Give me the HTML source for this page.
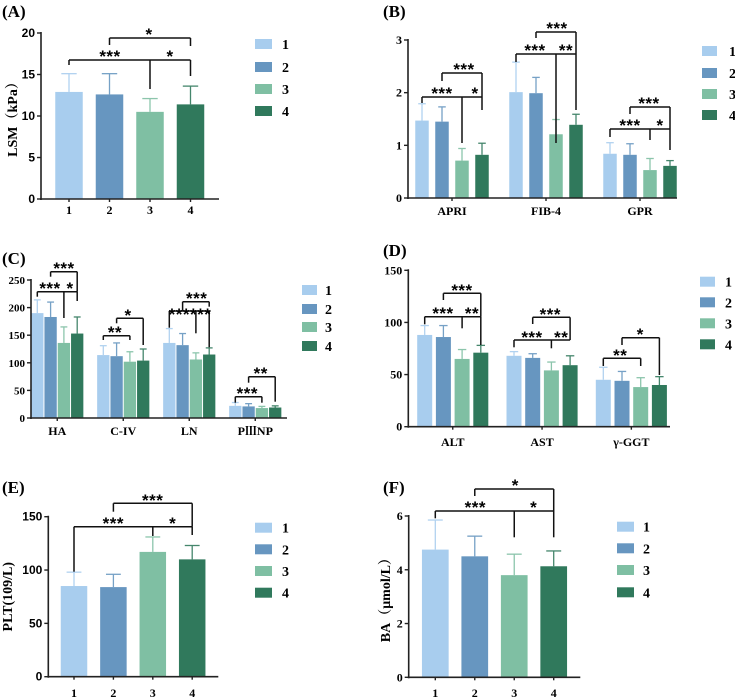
<!DOCTYPE html>
<html><head><meta charset="utf-8"><style>
html,body{margin:0;padding:0;background:#fff;}
svg{display:block;font-family:"Liberation Serif","Noto Serif CJK SC",serif;}
</style></head><body>
<svg id="fig" width="735" height="699" viewBox="0 0 735 699" xmlns="http://www.w3.org/2000/svg"></svg>
<script>
// ---------- data ----------
const seriesNames = ["1","2","3","4"];
const colors = ["#a8cdee","#6796c0","#7fbfa3","#30795c"];

const aCats = ["1","2","3","4"];
const aMeans = [[12.9,12.6,10.5,11.4]];
const aErrTop = [[15.1,15.1,12.1,13.6]];
const aTicks = [0,5,10,15,20];

const bCats = ["APRI","FIB-4","GPR"];
const bMeans = [[1.47,1.45,0.71,0.82],[2.01,1.99,1.21,1.39],[0.84,0.82,0.53,0.61]];
const bErrTop = [[1.79,1.73,0.94,1.04],[2.58,2.29,1.49,1.59],[1.05,1.03,0.75,0.71]];
const bTicks = [0,1,2,3];

const cCats = ["HA","C-IV","LN","PⅢNP"];
const cMeans = [[190,183,136,153],[114,112,102,104],[136,132,106,115],[22,21,18,19]];
const cErrTop = [[214,210,165,183],[131,136,120,125],[162,153,118,127],[28,26,21,22]];
const cTicks = [0,50,100,150,200,250];

const dCats = ["ALT","AST","γ-GGT"];
const dMeans = [[88,86,65,71],[68,66,54,59],[45,44,38,40]];
const dErrTop = [[97,97,74,78],[72,70,62,68],[57,53,47,48]];
const dTicks = [0,50,100,150];

const eCats = ["1","2","3","4"];
const eMeans = [[85,84,117,110]];
const eErrTop = [[98,96,131,123]];
const eTicks = [0,50,100,150];

const fCats = ["1","2","3","4"];
const fMeans = [[4.75,4.5,3.8,4.13]];
const fErrTop = [[5.85,5.25,4.58,4.7]];
const fTicks = [0,2,4,6];

// ---------- drawing ----------
const NS="http://www.w3.org/2000/svg";
const svg=document.getElementById('fig');
function el(tag,attrs,parent,text){
  const e=document.createElementNS(NS,tag);
  for(const k in attrs) e.setAttribute(k,attrs[k]);
  if(text!==undefined) e.textContent=text;
  (parent||svg).appendChild(e);
  return e;
}
function lighten(hex,f){
  const n=parseInt(hex.slice(1),16);let r=n>>16,g=(n>>8)&255,b=n&255;
  r=Math.round(r+(255-r)*f);g=Math.round(g+(255-g)*f);b=Math.round(b+(255-b)*f);
  return "rgb("+r+","+g+","+b+")";
}

function panel(p){
  const g=el('g',{},svg);
  
  
  const ys=v=>p.yBot-(v/p.ymax)*(p.yBot-p.yTop);
  const bx=(gi,si)=>p.g0+gi*p.gs+si*p.pitch;
  const t=el('text',{x:p.lx,y:p.ly,'font-size':17,'font-weight':'bold'},g,p.letter);
  
  
  p.means.forEach((row,gi)=>row.forEach((v,si)=>{
    const cx=bx(gi,si), top=ys(v), et=ys(p.err[gi][si]);
    const ec=lighten(colors[si],0.1);
    const ln=el('line',{x1:cx,x2:cx,y1:top,y2:et,stroke:ec,'stroke-width':1.3},g);
    
    
    el('line',{x1:cx-p.bw*0.28,x2:cx+p.bw*0.28,y1:et,y2:et,stroke:ec,'stroke-width':1.3},g);
    const r=el('rect',{x:cx-p.bw/2,y:top,width:p.bw,height:p.yBot-top,fill:colors[si]},g);
    
    
  }));
  el('line',{x1:p.x0,x2:p.x0,y1:p.yTop-1,y2:p.yBot+1,stroke:'#222','stroke-width':1.6},g);
  el('line',{x1:p.x0-1,x2:p.xEnd,y1:p.yBot,y2:p.yBot,stroke:'#222','stroke-width':1.6},g);
  p.ticks.forEach(v=>{
    const y=ys(v);
    el('line',{x1:p.x0-4,x2:p.x0,y1:y,y2:y,stroke:'#222','stroke-width':1.4},g);
    const tl=el('text',{x:p.x0-6,y:y+4,'font-size':p.tfs||12,'font-weight':'bold','text-anchor':'end','font-family':p.sans?'"Liberation Sans",sans-serif':'"Liberation Serif",serif'},g,String(v));
    
    
  });
  p.cats.forEach((c,i)=>{
    let cx;
    if(p.single) cx=bx(0,i); else cx=(bx(i,0)+bx(i,3))/2;
    el('line',{x1:cx,x2:cx,y1:p.yBot,y2:p.yBot+3,stroke:'#222','stroke-width':1.4},g);
    const cl=el('text',{x:cx,y:p.catY,'font-size':p.cfs||12,'font-weight':'bold','text-anchor':'middle'},g,c);
    
    
  });
  if(p.ytitle){
    const yt=el('text',{x:0,y:0,'font-size':14,'font-weight':'bold','text-anchor':'middle',transform:'translate('+p.ytx+','+((p.yTop+p.yBot)/2)+') rotate(-90)','font-family':'"Liberation Serif","Noto Serif CJK SC",serif'},g,p.ytitle);
    
    
  }
  (p.br||[]).forEach(b=>{
    const xs=b.pts.map(q=>bx(q[0],q[1]));
    const bg=el('g',{},g);
    
    
    el('line',{x1:Math.min(...xs),x2:Math.max(...xs),y1:b.y,y2:b.y,stroke:'#111','stroke-width':1.5},bg);
    b.pts.forEach((q,i)=>el('line',{x1:xs[i],x2:xs[i],y1:b.y,y2:q[2],stroke:'#111','stroke-width':1.5},bg));
    b.labels.forEach(l=>el('text',{x:l[0],y:l[1]+6,'font-size':17,'font-weight':'bold','text-anchor':'middle','font-family':'"Liberation Sans",sans-serif','letter-spacing':'0.5'},bg,l[2]));
  });
  seriesNames.forEach((s,i)=>{
    const y=p.legY[i];
    const lg=el('g',{},g);
    
    
    el('rect',{x:p.legX,y:y-5,width:p.legW||16,height:10,fill:colors[i]},lg);
    el('text',{x:p.legTx,y:y+5,'font-size':14,'font-weight':'bold'},lg,s);
  });
}

panel({name:'panel-a-lsm',letter:'(A)',lx:2,ly:17,x0:41,yTop:33,yBot:199,xEnd:219,ymax:20,ticks:aTicks,sans:true,
  cats:aCats,means:aMeans,err:aErrTop,single:true,g0:69,gs:0,pitch:40.5,bw:27.5,catY:214,
  ytitle:'LSM（kPa）',ytx:17,legX:255,legW:17,legTx:282,legY:[44,67,89,111],
  br:[{y:60,pts:[[0,0,65],[0,2,89],[0,3,76]],labels:[[110,56,'***'],[170,56,'*']]},
      {y:38,pts:[[0,1,45],[0,3,46]],labels:[[149,34,'*']]}]});

panel({name:'panel-b-indices',letter:'(B)',lx:383,ly:17,x0:408,yTop:40,yBot:198,xEnd:677,ymax:3,ticks:bTicks,
  cats:bCats,means:bMeans,err:bErrTop,g0:422,gs:94,pitch:20,bw:13.5,catY:215,
  legX:702,legW:15,legTx:729,legY:[51,73,94,115],
  br:[{y:97,pts:[[0,0,103],[0,2,143],[0,3,110]],labels:[[442,93,'***'],[475,93,'*']]},
      {y:73,pts:[[0,1,81],[0,3,97]],labels:[[464,69,'***']]},
      {y:54,pts:[[1,0,62],[1,2,143],[1,3,110]],labels:[[535,50,'***'],[566,50,'**']]},
      {y:32,pts:[[1,1,38],[1,3,54]],labels:[[557,28,'***']]},
      {y:129,pts:[[2,0,137],[2,2,140],[2,3,150]],labels:[[630,125,'***'],[660,125,'*']]},
      {y:107,pts:[[2,1,114],[2,3,129]],labels:[[649,103,'***']]}]});

panel({name:'panel-c-fibrosis',letter:'(C)',lx:2,ly:264,x0:31,yTop:280,yBot:418,xEnd:287,ymax:250,ticks:cTicks,tfs:11,
  cats:cCats,means:cMeans,err:cErrTop,g0:37.3,gs:66,pitch:13.3,bw:12.3,catY:435,
  legX:302,legW:15,legTx:325,legY:[290,309,327,346],
  br:[{y:291.7,pts:[[0,0,296.7],[0,2,318],[0,3,301]],labels:[[50,288,'***'],[70,288,'*']]},
      {y:271.7,pts:[[0,1,276.7],[0,3,291.7]],labels:[[64,268,'***']]},
      {y:335.7,pts:[[1,0,340],[1,2,340]],labels:[[115,332,'**']]},
      {y:318.3,pts:[[1,1,323.3],[1,3,345]],labels:[[128,315,'*']]},
      {y:311,pts:[[2,0,327.7],[2,2,333.3],[2,3,347.3]],labels:[[190,314,'******']]},
      {y:301.7,pts:[[2,1,311],[2,3,306.7]],labels:[[196.7,298,'***']]},
      {y:396.7,pts:[[3,0,402.7],[3,2,402.7]],labels:[[247.3,393,'***']]},
      {y:376.7,pts:[[3,1,382.7],[3,3,401.7]],labels:[[260.7,373,'**']]}]});

panel({name:'panel-d-enzymes',letter:'(D)',lx:383,ly:256,x0:408.3,yTop:270.3,yBot:426.7,xEnd:670,ymax:150,ticks:dTicks,
  cats:dCats,means:dMeans,err:dErrTop,g0:424.7,gs:89.3,pitch:18.7,bw:15,catY:446,
  legX:700,legW:15,legTx:725,legY:[281.7,302.3,323.3,344.3],
  br:[{y:316.7,pts:[[0,0,324.3],[0,2,328.3],[0,3,345]],labels:[[443,313,'***'],[472,313,'**']]},
      {y:293.3,pts:[[0,1,300],[0,3,316.7]],labels:[[462,290,'***']]},
      {y:340,pts:[[1,0,347.3],[1,2,348.3],[1,3,338]],labels:[[532,337,'***'],[561.3,337,'**']]},
      {y:317.3,pts:[[1,1,324],[1,3,338]],labels:[[550.3,314,'***']]},
      {y:358.3,pts:[[2,0,366],[2,2,366]],labels:[[620.3,355,'**']]},
      {y:337.7,pts:[[2,1,345],[2,3,375]],labels:[[640.3,334,'*']]}]});

panel({name:'panel-e-plt',letter:'(E)',lx:2,ly:493,x0:48.3,yTop:516.7,yBot:676.7,xEnd:218.3,ymax:150,ticks:eTicks,sans:true,
  cats:eCats,means:eMeans,err:eErrTop,single:true,g0:74,gs:0,pitch:39.4,bw:26.5,catY:697,
  ytitle:'PLT(109/L)',ytx:12,legX:255,legW:17,legTx:282,legY:[527.7,549.3,571,592.7],
  br:[{y:526.7,pts:[[0,0,571.7],[0,2,536],[0,3,535]],labels:[[113.3,523,'***'],[172.7,523,'*']]},
      {y:503.3,pts:[[0,1,511.7],[0,3,526.7]],labels:[[152.7,500,'***']]}]});

panel({name:'panel-f-ba',letter:'(F)',lx:383,ly:493,x0:408.7,yTop:516,yBot:677.3,xEnd:580.3,ymax:6,ticks:fTicks,
  cats:fCats,means:fMeans,err:fErrTop,single:true,g0:435.3,gs:0,pitch:39.47,bw:26.7,catY:697,
  ytitle:'BA（μmol/L）',ytx:390,legX:617,legW:17,legTx:643,legY:[526.7,548.3,570,592.3],
  br:[{y:511,pts:[[0,0,518.3],[0,2,537.3],[0,3,537.3]],labels:[[475.3,507,'***'],[533.7,507,'*']]},
      {y:489,pts:[[0,1,496],[0,3,511]],labels:[[515.3,485,'*']]}]});
</script>
</body></html>
